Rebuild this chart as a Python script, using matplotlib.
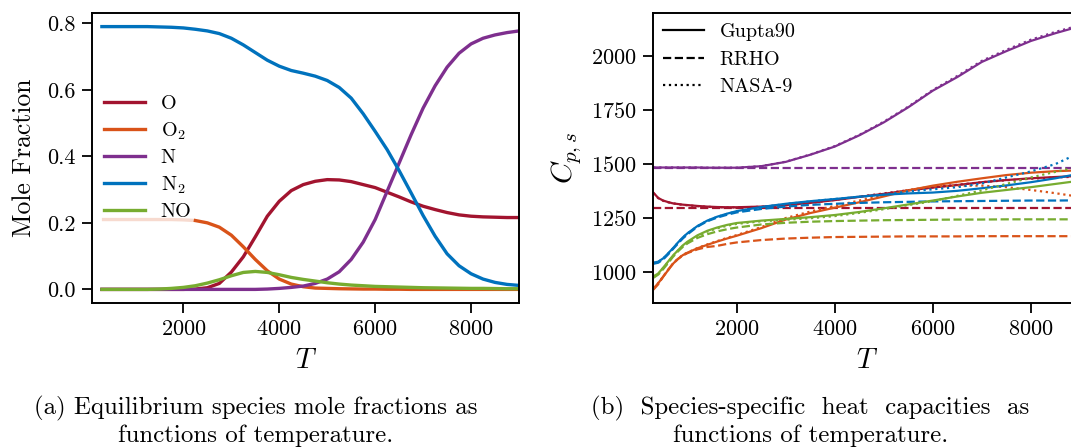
import numpy as np
import matplotlib
matplotlib.use("Agg")
import matplotlib.pyplot as plt
from matplotlib.lines import Line2D

plt.rcParams['font.family'] = ['cmr10', 'DejaVu Serif']
plt.rcParams['mathtext.fontset'] = 'cm'
plt.rcParams['axes.formatter.use_mathtext'] = True
plt.rcParams['axes.unicode_minus'] = False

# ---------------- data: (a) mole fractions ----------------
T_a = [300, 500, 750, 1000, 1250, 1500, 1750, 2000, 2250, 2500, 2750, 3000,
       3250, 3500, 3750, 4000, 4250, 4500, 4750, 5000, 5250, 5500, 5750, 6000,
       6250, 6500, 6750, 7000, 7250, 7500, 7750, 8000, 8250, 8500, 8750, 9000]
x_O = [0, 0, 0, 0, 0, 0, 0, 0, 0.001, 0.005, 0.018, 0.052,
       0.098, 0.158, 0.220, 0.265, 0.297, 0.315, 0.325, 0.330, 0.329, 0.324, 0.315, 0.306,
       0.292, 0.278, 0.263, 0.250, 0.240, 0.231, 0.224, 0.220, 0.218, 0.217, 0.216, 0.216]
x_O2 = [0.210, 0.210, 0.210, 0.210, 0.210, 0.210, 0.210, 0.209, 0.207, 0.200, 0.187, 0.163,
        0.128, 0.090, 0.056, 0.031, 0.016, 0.008, 0.004, 0.003, 0.002, 0.0015, 0.001, 0.001,
        0.0005, 0.0005, 0, 0, 0, 0, 0, 0, 0, 0, 0, 0]
x_N = [0, 0, 0, 0, 0, 0, 0, 0, 0, 0, 0, 0,
       0, 0, 0.001, 0.003, 0.006, 0.010, 0.018, 0.031, 0.053, 0.090, 0.142, 0.210,
       0.295, 0.380, 0.465, 0.545, 0.612, 0.668, 0.710, 0.738, 0.755, 0.765, 0.772, 0.777]
x_N2 = [0.790, 0.790, 0.790, 0.790, 0.790, 0.789, 0.788, 0.786, 0.782, 0.777, 0.769, 0.755,
        0.735, 0.712, 0.689, 0.671, 0.658, 0.650, 0.641, 0.628, 0.607, 0.575, 0.528, 0.475,
        0.420, 0.357, 0.290, 0.222, 0.160, 0.107, 0.071, 0.047, 0.031, 0.021, 0.015, 0.012]
x_NO = [0, 0, 0, 0, 0, 0.001, 0.003, 0.006, 0.011, 0.019, 0.029, 0.041,
        0.051, 0.054, 0.051, 0.044, 0.036, 0.030, 0.025, 0.020, 0.016, 0.013, 0.011, 0.009,
        0.008, 0.007, 0.006, 0.005, 0.0045, 0.004, 0.0035, 0.003, 0.003, 0.0025, 0.002, 0.002]

species = ['O', 'O$_2$', 'N', 'N$_2$', 'NO']
colors = ['#a2142f', '#d95319', '#7e2f8e', '#0072bd', '#77ac30']
O2_pale_color = '#f7dacf'
O2_pale_until = 2400

# ---------------- data: (b) heat capacities ----------------
T_b = [300, 400, 500, 600, 700, 800, 900, 1000, 1200, 1400, 1600, 1800, 2000,
       2500, 3000, 3500, 4000, 4500, 5000, 5500, 6000, 6500, 7000, 7500, 8000, 8500, 9000]
# Gupta90 (solid)
cp_O_g = [1370, 1345, 1333, 1326, 1320, 1317, 1314, 1312, 1308, 1305, 1303, 1302, 1302,
          1305, 1312, 1322, 1335, 1350, 1364, 1380, 1393, 1405, 1418, 1428, 1436, 1442, 1447]
cp_O2_g = [925, 950, 980, 1010, 1040, 1062, 1080, 1092, 1112, 1128, 1143, 1157, 1170,
           1205, 1245, 1275, 1300, 1325, 1352, 1380, 1402, 1420, 1436, 1451, 1462, 1469, 1473]
cp_N_g = [1486, 1486, 1486, 1486, 1486, 1486, 1486, 1486, 1486, 1485, 1485, 1485, 1485,
          1492, 1512, 1545, 1583, 1635, 1695, 1765, 1842, 1905, 1975, 2025, 2072, 2108, 2140]
cp_N2_g = [1045, 1050, 1065, 1088, 1112, 1138, 1162, 1182, 1215, 1240, 1258, 1272, 1284,
           1303, 1318, 1330, 1340, 1351, 1360, 1366, 1370, 1378, 1390, 1403, 1418, 1436, 1458]
cp_NO_g = [982, 995, 1022, 1050, 1078, 1102, 1125, 1143, 1172, 1193, 1208, 1220, 1229,
           1240, 1248, 1256, 1266, 1280, 1297, 1315, 1333, 1352, 1369, 1382, 1395, 1410, 1425]
# RRHO (dashed)
cp_O_r = [1299] * 27
cp_O2_r = [920, 945, 980, 1012, 1040, 1062, 1078, 1090, 1107, 1118, 1123, 1132, 1139,
           1150, 1157, 1161, 1164, 1165, 1166, 1167, 1167, 1167, 1168, 1168, 1168, 1168, 1168]
cp_N_r = [1486] * 27
cp_N2_r = [1040, 1045, 1060, 1083, 1108, 1133, 1157, 1177, 1212, 1237, 1254, 1267, 1278,
           1294, 1305, 1313, 1318, 1322, 1325, 1327, 1329, 1330, 1331, 1332, 1333, 1333, 1334]
cp_NO_r = [975, 990, 1015, 1043, 1072, 1097, 1118, 1135, 1160, 1177, 1190, 1200, 1208,
           1222, 1230, 1235, 1238, 1240, 1242, 1243, 1244, 1245, 1245, 1246, 1246, 1246, 1246]
# NASA-9 (dotted)
cp_O_n = [1368, 1344, 1332, 1325, 1320, 1316, 1313, 1311, 1307, 1304, 1302, 1301, 1301,
          1304, 1311, 1322, 1336, 1351, 1366, 1381, 1394, 1406, 1418, 1427, 1434, 1440, 1444]
cp_O2_n = [926, 951, 981, 1011, 1041, 1063, 1081, 1093, 1113, 1130, 1145, 1160, 1173,
           1210, 1252, 1282, 1308, 1333, 1358, 1382, 1398, 1402, 1402, 1395, 1382, 1367, 1350]
cp_N_n = [1486, 1486, 1486, 1486, 1486, 1486, 1486, 1486, 1486, 1485, 1485, 1485, 1485,
          1492, 1513, 1546, 1585, 1637, 1698, 1768, 1845, 1910, 1980, 2031, 2078, 2114, 2145]
cp_N2_n = [1043, 1049, 1064, 1087, 1111, 1137, 1161, 1181, 1214, 1239, 1257, 1271, 1283,
           1302, 1317, 1329, 1340, 1350, 1360, 1375, 1385, 1395, 1412, 1440, 1468, 1502, 1555]
cp_NO_n = [978, 993, 1020, 1048, 1076, 1100, 1122, 1140, 1168, 1189, 1204, 1216, 1225,
           1237, 1244, 1251, 1261, 1276, 1293, 1312, 1330, 1355, 1380, 1410, 1440, 1466, 1490]

gupta = [cp_O_g, cp_O2_g, cp_N_g, cp_N2_g, cp_NO_g]
rrho = [cp_O_r, cp_O2_r, cp_N_r, cp_N2_r, cp_NO_r]
nasa = [cp_O_n, cp_O2_n, cp_N_n, cp_N2_n, cp_NO_n]
model_labels = ['Gupta90', 'RRHO', 'NASA-9']
model_styles = ['-', '--', ':']

xticks = [2000, 4000, 6000, 8000]
yticks_a = [0.0, 0.2, 0.4, 0.6, 0.8]
yticks_b = [1000, 1250, 1500, 1750, 2000]

caption_a = ["(a) Equilibrium species mole fractions as", "functions of temperature."]
caption_b = ["(b)  Species-specific  heat  capacities  as", "functions of temperature."]

# ---------------- figure ----------------
W, H = 1071, 447
fig = plt.figure(figsize=(W / 100, H / 100), dpi=100)

ax_l, ax_b, ax_w, ax_h = 92.3, 13.3, 426.7, 289.4
axA = fig.add_axes([ax_l / W, 1 - (ax_b + ax_h) / H, ax_w / W, ax_h / H])
axB = fig.add_axes([653.3 / W, 1 - (ax_b + ax_h) / H, ax_w / W, ax_h / H])

tick_fs = 16
label_fs = 18.5
leg_fs = 14.5

for ax in (axA, axB):
    for s in ax.spines.values():
        s.set_linewidth(1.4)
    ax.tick_params(direction='out', length=7, width=1.3, labelsize=tick_fs, pad=5)
    ax.set_xticks(xticks)
    ax.set_xlabel('$T$', fontsize=label_fs + 2, labelpad=6)

# (a)
lw_a = 2.4
Ta = np.array(T_a)
series_a = [x_O, x_O2, x_N, x_N2, x_NO]
handles = []
for name, vals, c in zip(species, series_a, colors):
    v = np.array(vals)
    if name == 'O$_2$':
        m1 = Ta <= O2_pale_until
        axA.plot(Ta[m1], v[m1], color=O2_pale_color, lw=lw_a, solid_capstyle='butt')
        m2 = Ta >= 2250
        h, = axA.plot(Ta[m2], v[m2], color=c, lw=lw_a, label=name)
    else:
        h, = axA.plot(Ta, v, color=c, lw=lw_a, label=name)
    handles.append(h)
axA.set_xlim(100, 9000)
axA.set_ylim(-0.04, 0.83)
axA.set_yticks(yticks_a)
axA.set_yticklabels([f'{v:.1f}' for v in yticks_a])
axA.set_ylabel('Mole Fraction', fontsize=label_fs, labelpad=8)
axA.legend(handles=handles, loc='center left', frameon=False, fontsize=leg_fs,
           handlelength=2.0, borderaxespad=0.2, labelspacing=0.35,
           bbox_to_anchor=(0.0, 0.5))

# (b)
lw_b = 1.6
Tb = np.array(T_b)
for i, c in enumerate(colors):
    axB.plot(Tb, gupta[i], color=c, lw=lw_b, ls='-')
    axB.plot(Tb, rrho[i], color=c, lw=lw_b, ls='--')
    axB.plot(Tb, nasa[i], color=c, lw=lw_b, ls=':')
axB.set_xlim(300, 9000)
axB.set_ylim(860, 2200)
axB.set_yticks(yticks_b)
axB.set_ylabel('$C_{p,s}$', fontsize=label_fs + 3, labelpad=6)
proxies = [Line2D([0], [0], color='black', lw=lw_b, ls=s) for s in model_styles]
axB.legend(proxies, model_labels, loc='upper left', frameon=False, fontsize=leg_fs,
           handlelength=2.0, borderaxespad=0.1, labelspacing=0.45)

cap_fs = 17.9
fig.text(256 / W, 1 - 408 / H, caption_a[0], ha='center', va='center', fontsize=cap_fs)
fig.text(256 / W, 1 - 436 / H, caption_a[1], ha='center', va='center', fontsize=cap_fs)
fig.text(810 / W, 1 - 408 / H, caption_b[0], ha='center', va='center', fontsize=cap_fs)
fig.text(811 / W, 1 - 436 / H, caption_b[1], ha='center', va='center', fontsize=cap_fs)

fig.savefig('out.png', dpi=100)
